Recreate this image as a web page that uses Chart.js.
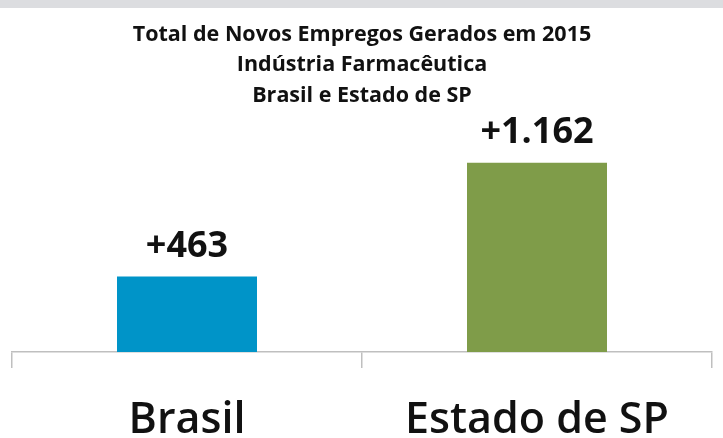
<!DOCTYPE html>
<html>
<head>
<meta charset="utf-8">
<script src="https://cdn.jsdelivr.net/npm/chart.js@4"></script>
<style>
  html, body { margin: 0; padding: 0; background: #ffffff; }
  #wrap { width: 723px; height: 438px; position: relative; }
</style>
</head>
<body>
<div id="wrap"><canvas id="c" width="723" height="438"></canvas></div>
<script>
const categories = ["Brasil", "Estado de SP"];
const newJobs = [463, 1162];
const barColors = ["#0094c8", "#7f9c49"];
const titleLines = ["Total de Novos Empregos Gerados em 2015", "Indústria Farmacêutica", "Brasil e Estado de SP"];

function fmtPlus(v) {
  const s = String(Math.round(v)).replace(/\B(?=(\d{3})+(?!\d))/g, ".");
  return "+" + s;
}

const topBand = {
  id: "topBand",
  beforeDraw(chart) {
    const ctx = chart.ctx;
    ctx.save();
    ctx.fillStyle = "#dcdde0";
    ctx.fillRect(0, 0, chart.width, 8);
    ctx.restore();
  }
};

const valueLabels = {
  id: "valueLabels",
  afterDatasetsDraw(chart) {
    const ctx = chart.ctx;
    const meta = chart.getDatasetMeta(0);
    ctx.save();
    ctx.font = "bold 36px 'Open Sans'";
    ctx.fillStyle = "#111111";
    ctx.textAlign = "center";
    ctx.textBaseline = "alphabetic";
    meta.data.forEach((bar, i) => {
      ctx.fillText(fmtPlus(newJobs[i]), bar.x, bar.y - 20);
    });
    ctx.restore();
  }
};

new Chart(document.getElementById("c"), {
  type: "bar",
  data: {
    labels: categories,
    datasets: [{
      data: newJobs,
      backgroundColor: barColors,
      borderWidth: 0,
      barPercentage: 0.4,
      categoryPercentage: 1.0
    }]
  },
  options: {
    responsive: false,
    animation: false,
    layout: { padding: { left: 12, right: 11, top: 0, bottom: -35 } },
    plugins: {
      legend: { display: false },
      tooltip: { enabled: false },
      title: {
        display: true,
        text: titleLines,
        color: "#111111",
        font: { family: "'Open Sans'", size: 21.5, weight: "bold", lineHeight: 1.419 },
        padding: { top: 19.5, bottom: 13 }
      }
    },
    scales: {
      x: {
        offset: true,
        grid: {
          display: true,
          offset: true,
          drawOnChartArea: false,
          drawTicks: true,
          tickLength: 16,
          color: "#bfbfbf",
          lineWidth: 1.5
        },
        border: { display: true, color: "#bfbfbf", width: 1.5 },
        ticks: {
          color: "#111111",
          padding: 31,
          font: { family: "'Open Sans'", size: 43, weight: 600, lineHeight: 1.0 }
        }
      },
      y: {
        display: false,
        min: 0,
        max: 1400
      }
    }
  },
  plugins: [topBand, valueLabels]
});
</script>
</body>
</html>
